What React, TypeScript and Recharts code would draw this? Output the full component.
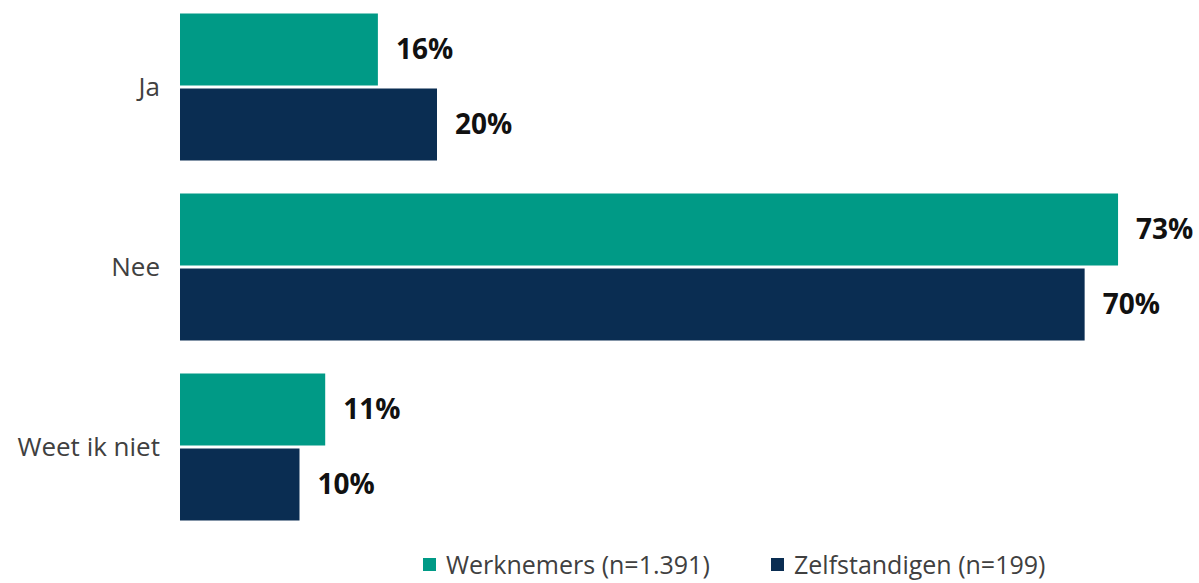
import { Bar, BarChart, LabelList, XAxis, YAxis } from "recharts";

const categories = ["Ja", "Nee", "Weet ik niet"];
const werknemers = [15.4, 73.0, 11.3];
const zelfstandigen = [20.0, 70.4, 9.3];
const werknemersLabels = ["16%", "73%", "11%"];
const zelfstandigenLabels = ["20%", "70%", "10%"];

const series = [
  { key: "werknemers", label: "Werknemers (n=1.391)", color: "#009A86", x: 423 },
  { key: "zelfstandigen", label: "Zelfstandigen (n=199)", color: "#0A2D52", x: 771 },
];

const data = categories.map((name, i) => ({
  name,
  werknemers: werknemers[i],
  zelfstandigen: zelfstandigen[i],
  werknemersLabel: werknemersLabels[i],
  zelfstandigenLabel: zelfstandigenLabels[i],
}));

const font = "'Open Sans', 'Noto Sans', sans-serif";

function Legend() {
  return (
    <>
      {series.map((s) => (
        <div
          key={s.key}
          style={{
            position: "absolute",
            left: s.x,
            top: 550,
            height: 28,
            lineHeight: "28px",
            display: "flex",
            alignItems: "center",
            fontFamily: font,
            fontSize: 25,
            color: "#404040",
            whiteSpace: "nowrap",
          }}
        >
          <span style={{ width: 13, height: 13, background: s.color, display: "inline-block", marginRight: 10 }} />
          <span>{s.label}</span>
        </div>
      ))}
    </>
  );
}

export default function App() {
  return (
    <div style={{ position: "absolute", left: 0, top: 0, width: 1199, height: 583, overflow: "hidden", background: "#fff" }}>
      <div style={{ position: "absolute", left: 0, top: -10 }}>
        <BarChart
          width={1199}
          height={560}
          data={data}
          layout="vertical"
          barSize={72}
          barGap={3}
          margin={{ top: 6.5, right: 55.25, bottom: 13.5, left: 0 }}
        >
          <XAxis type="number" domain={[0, 75]} hide />
          <YAxis
            type="category"
            dataKey="name"
            width={180}
            axisLine={false}
            tickLine={false}
            tickSize={0}
            tickMargin={20}
            tick={{ fill: "#404040", fontSize: 26, fontFamily: font }}
          />
          {series.map((s) => (
            <Bar key={s.key} dataKey={s.key} fill={s.color} isAnimationActive={false}>
              <LabelList
                dataKey={`${s.key}Label`}
                position="right"
                offset={18}
                style={{ fill: "#111", fontSize: 28, fontWeight: 700, fontFamily: font }}
              />
            </Bar>
          ))}
        </BarChart>
      </div>
      <Legend />
    </div>
  );
}
